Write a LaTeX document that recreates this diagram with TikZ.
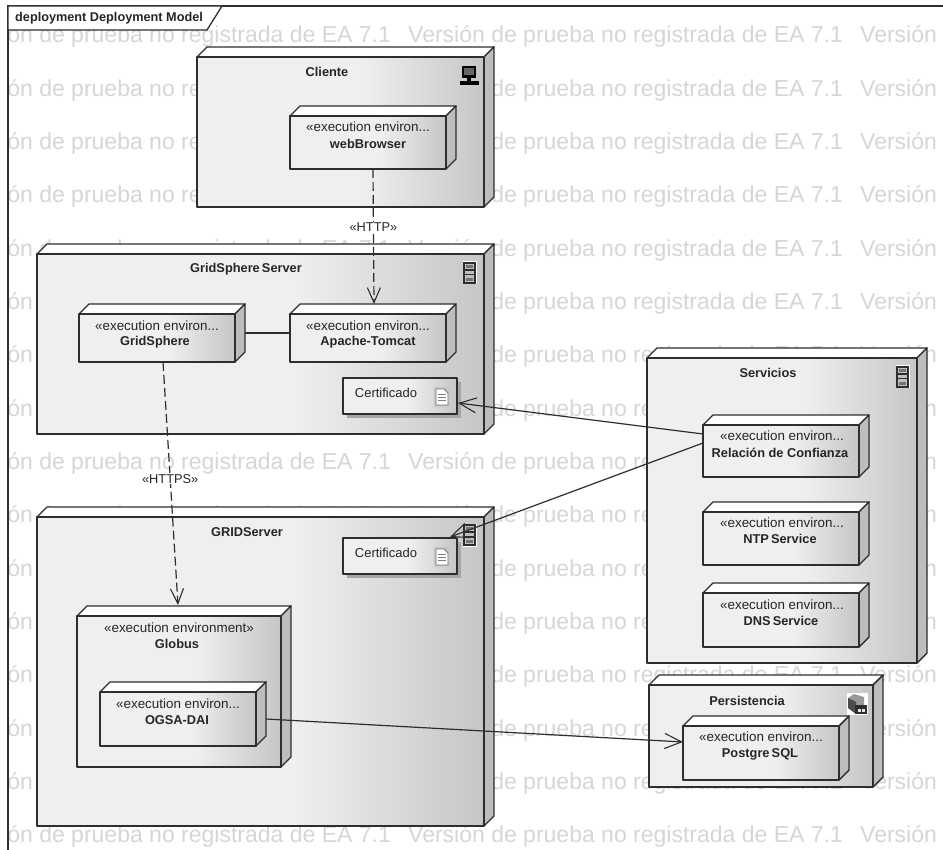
\documentclass[tikz,border=0pt]{standalone}
\usepackage{fontspec}
\setmainfont{Liberation Sans}
\usetikzlibrary{arrows.meta}
\definecolor{ealine}{HTML}{2E2E2E}
\definecolor{ealight}{HTML}{EFEFEF}
\definecolor{eadark}{HTML}{C6C6C6}
\definecolor{easide}{HTML}{BDBDBD}
\definecolor{eawm}{HTML}{D6D6D6}
\pgfdeclarehorizontalshading{eashade}{100bp}{color(0bp)=(ealight); color(54bp)=(ealight); color(75bp)=(eadark); color(100bp)=(eadark)}
\tikzset{
  x=1pt,y=-1pt,
  edge3d/.style={draw=ealine,line width=1.4pt,line join=round},
  frontface/.style={edge3d,shading=eashade,inner sep=0pt,outer sep=0pt},
  stereo/.style={font=\fontsize{13.4}{15}\selectfont,text=black!85,inner sep=0pt},
  nodename/.style={font=\fontsize{12.8}{15}\selectfont\bfseries,text=black!85,inner sep=0pt},
  certtext/.style={font=\fontsize{13}{15}\selectfont,text=black!85,inner sep=0pt},
  wmtext/.style={font=\fontsize{23}{25}\selectfont,text=eawm,anchor=base west,inner sep=0pt},
  conn/.style={draw=ealine,line width=1.2pt},
  depend/.style={conn,dash pattern=on 9pt off 4pt,-{Straight Barb[length=15pt,width=13pt,line width=1.1pt]}},
  assoc/.style={conn,-{Straight Barb[length=17pt,width=15pt,line width=1.1pt]}},
  link/.style={conn},
  connlabel/.style={fill=white,inner sep=1pt,font=\fontsize{12.8}{15}\selectfont,text=black!85},
}
% name, x1, y1, x2, y2 (front face), depth 10
\newcommand{\depbox}[5]{%
  \draw[edge3d,fill=white] (#2,#3) -- ++(10,-10) -- (#4+10,#3-10) -- (#4,#3) -- cycle;
  \draw[edge3d,fill=easide] (#4,#3) -- (#4+10,#3-10) -- (#4+10,#5-10) -- (#4,#5) -- cycle;
  \node[frontface,minimum width={(#4-#2)*1pt},minimum height={(#5-#3)*1pt}] (#1) at ({(#2+#4)/2},{(#3+#5)/2}) {};
}
\newcommand{\serverico}[2]{%
  \begin{scope}[shift={(#1,#2)}]
    \fill[white] (-1.5,-1.5) rectangle (12.5,21.5);
    \draw[ealine,line width=1.1pt,fill=black!25] (0,0) rectangle (11,20);
    \fill[ealine] (0,6) rectangle (11,8);
    \fill[ealine] (0,11) rectangle (11,12.5);
    \fill[black!55] (2,2) rectangle (9,5);
    \fill[black!55] (2,15) rectangle (9,18);
  \end{scope}}
\newcommand{\docico}[2]{%
  \begin{scope}[shift={(#1,#2)}]
    \fill[black!22] (0,0) rectangle (16,20);
    \draw[black!55,line width=.8pt,fill=white] (2,2) -- (10,2) -- (14,6) -- (14,18) -- (2,18) -- cycle;
    \draw[black!50,line width=.7pt] (4,7) -- (12,7) (4,10) -- (12,10) (4,13) -- (12,13);
  \end{scope}}
\begin{document}
\begin{tikzpicture}
\useasboundingbox (0,0) rectangle (943,850);
\fill[white] (0,0) rectangle (943,850);
% watermark
\begin{scope}
  \clip (9,7) rectangle (943,850);
  \foreach \r in {0,...,15}{
    \foreach \c/\xp in {a/-44,b/408,c/860}{
      \node[wmtext] (wm\c\r) at (\xp,{43+53.33*\r}) {Versión de prueba no registrada de EA 7.1};
    }
  }
\end{scope}
% frame
\draw[ealine,line width=1.3pt] (943,6) -- (8,6) -- (8,850);
\draw[ealine,line width=1.3pt,fill=white] (8,6) -- (222,6) -- (207,30) -- (8,30) -- cycle;
\node[font=\fontsize{12.7}{15}\selectfont\bfseries,anchor=west,inner sep=0pt,text=black!85] (title) at (15,18) {deployment Deployment Model};
% containers
\depbox{cliente}{197}{57}{484}{207}
\depbox{gsserver}{37}{254}{484}{434}
\depbox{gridserver}{37}{517}{484}{826}
\depbox{servicios}{647}{358}{917}{663}
\depbox{persist}{649}{685}{873}{787}
% inner boxes
\depbox{web}{290}{116}{446}{169}
\depbox{gridsphere}{79}{314}{235}{362}
\depbox{apache}{290}{314}{446}{362}
\depbox{globus}{77}{616}{281}{767}
\depbox{ogsa}{100}{692}{256}{746}
\depbox{relacion}{703}{425}{859}{477}
\depbox{ntp}{703}{512}{859}{565}
\depbox{dns}{703}{593}{859}{647}
\depbox{postgres}{683}{726}{839}{780}
% artifacts
\fill[black!35] (347,382) rectangle (461,418);
\node[frontface,minimum width=114pt,minimum height=36pt] (cert1) at (400,396) {};
\fill[black!35] (347,542) rectangle (461,578);
\node[frontface,minimum width=114pt,minimum height=36pt] (cert2) at (400,556) {};
\docico{434}{387}
\docico{434}{547}
% icons
\serverico{464}{263}
\serverico{464}{525}
\serverico{897}{367}
\begin{scope}[shift={(461,66)}]
  \fill[black] (1,0) rectangle (15,12);
  \fill[black!60] (3,2) rectangle (13,9);
  \fill[black] (6,12) rectangle (10,15);
  \fill[black] (-1,15) rectangle (18,19);
\end{scope}
\begin{scope}[shift={(848,694)}]
  \fill[white] (-1,-1) rectangle (20,21);
  \fill[black!40] (0,4) -- (6,0) -- (16,3) -- (16,12) -- (8,20) -- (0,14) -- cycle;
  \fill[black!70] (0,4) -- (8,8) -- (8,20) -- (0,14) -- cycle;
  \fill[ealine] (7,11) rectangle (19,20);
  \fill[black!10] (10,15) rectangle (12.5,18);
  \fill[black!10] (14,15) rectangle (16.5,18);
\end{scope}
% labels
\node[nodename] (lcliente) at (327,72) {Cliente};
\node[stereo] (s1) at (368,127) {«execution environ...};
\node[nodename] (n1) at (368,144) {webBrowser};
\node[nodename] (lgs) at (246,269) {GridSphere\,Server};
\node[stereo] (s2) at (157,326) {«execution environ...};
\node[nodename] (n2) at (155,342) {GridSphere};
\node[stereo] (s3) at (368,326) {«execution environ...};
\node[nodename] (n3) at (368,342) {Apache-Tomcat};
\node[certtext] (c1) at (386,393) {Certificado};
\node[nodename] (lgrid) at (247,532) {GRIDServer};
\node[certtext] (c2) at (386,553) {Certificado};
\node[stereo] (s4) at (179,628) {«execution environment»};
\node[nodename] (n4) at (177,644) {Globus};
\node[stereo] (s5) at (178,704) {«execution environ...};
\node[nodename] (n5) at (177,720) {OGSA-DAI};
\node[nodename] (lserv) at (768,373) {Servicios};
\node[stereo] (s6) at (782,436) {«execution environ...};
\node[nodename] (n6) at (780,453) {Relación de Confianza};
\node[stereo] (s7) at (782,523) {«execution environ...};
\node[nodename] (n7) at (780,539) {NTP\,Service};
\node[stereo] (s8) at (782,605) {«execution environ...};
\node[nodename] (n8) at (781,621) {DNS\,Service};
\node[nodename] (lpers) at (747,701) {Persistencia};
\node[stereo] (s9) at (761,737) {«execution environ...};
\node[nodename] (n9) at (760,754) {Postgre\,SQL};
% connectors
\draw[depend] ([xshift=5pt]web.south) -- ([xshift=6pt,yshift=10pt]apache.north) node[connlabel,pos=.43] (lhttp) {«HTTP»};
\draw[link] ([xshift=10pt,yshift=5pt]gridsphere.east) -- ([yshift=5pt]apache.west);
\draw[depend] ([xshift=6pt]gridsphere.south) -- ([xshift=-1pt,yshift=11pt]globus.north) node[connlabel,pos=.48] (lhttps) {«HTTPS»};
\draw[assoc] ([yshift=17pt]relacion.west) -- ([xshift=1pt,yshift=-7pt]cert1.east);
\draw[assoc] ([yshift=8pt]relacion.west) -- ([xshift=50pt,yshift=1pt]cert2.north);
\draw[assoc] ([xshift=10pt,yshift=0pt]ogsa.east) -- ([yshift=11pt]postgres.west);
\end{tikzpicture}
\end{document}
